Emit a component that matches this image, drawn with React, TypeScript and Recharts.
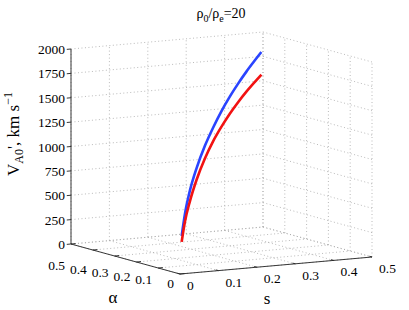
import { ComposedChart, Line, Scatter, XAxis, YAxis } from "recharts";

const sTicks = [0, 0.1, 0.2, 0.3, 0.4, 0.5];
const alphaTicks = [0, 0.1, 0.2, 0.3, 0.4, 0.5];
const vTicks = [0, 250, 500, 750, 1000, 1250, 1500, 1750, 2000];

// both curves run along the diagonal s = alpha
const curveT = [0.01, 0.03, 0.06, 0.1, 0.15, 0.2, 0.25, 0.3, 0.35, 0.4, 0.45, 0.49];
const vBlue = [380, 590, 800, 990, 1170, 1310, 1430, 1530, 1615, 1690, 1755, 1805];
const vRed = [320, 510, 690, 870, 1040, 1170, 1270, 1355, 1425, 1485, 1535, 1572];

const W = 409;
const H = 310;
const FONT = "'Liberation Serif', 'Liberation Sans', Arial, sans-serif";

// fixed 3d view (az/el of the original figure) flattened to 2d
const proj = (s: number, a: number, v: number) => ({
  x: 384 * s - 218 * a,
  y: 34 * s + 60 * a + 0.0975 * v,
});

const seg = (p: number[], q: number[]) => [proj(p[0], p[1], p[2]), proj(q[0], q[1], q[2])];

const sMax = sTicks[sTicks.length - 1];
const aMax = alphaTicks[alphaTicks.length - 1];
const vMax = vTicks[vTicks.length - 1];

const grid: { x: number; y: number }[][] = [];
vTicks.forEach((v) => {
  grid.push(seg([0, aMax, v], [sMax, aMax, v]));
  grid.push(seg([sMax, aMax, v], [sMax, 0, v]));
});
sTicks.forEach((s) => {
  grid.push(seg([s, aMax, 0], [s, aMax, vMax]));
  grid.push(seg([s, 0, 0], [s, aMax, 0]));
});
alphaTicks.forEach((a) => {
  grid.push(seg([sMax, a, 0], [sMax, a, vMax]));
  grid.push(seg([0, a, 0], [sMax, a, 0]));
});

const axes = [
  seg([0, aMax, 0], [0, aMax, vMax]),
  seg([0, aMax, 0], [0, 0, 0]),
  seg([0, 0, 0], [sMax, 0, 0]),
];
const ticks = [
  ...vTicks.map((v) => seg([0, aMax, v], [-0.011, aMax, v])),
  ...sTicks.map((s) => seg([s, 0, 0], [s, 0.012, 0])),
  ...alphaTicks.map((a) => seg([0, a, 0], [0.012, a, 0])),
];

const blueData = curveT.map((t, i) => proj(t, t, vBlue[i]));
const redData = curveT.map((t, i) => proj(t, t, vRed[i]));

const vLabels = vTicks.map((v) => ({ ...proj(0, aMax, v), label: String(v), val: v }));
const sLabels = sTicks.map((s) => ({ ...proj(s, 0, 0), label: String(s), val: s }));
const aLabels = alphaTicks.map((a) => ({ ...proj(0, a, 0), label: String(a), val: a }));

const labelShape = (anchor: string, dx: number, dy: (v: number) => number) => (props: any) => {
  const { cx, cy, payload } = props;
  return (
    <text
      x={cx + dx}
      y={cy + dy(payload.val)}
      textAnchor={anchor}
      style={{ fontFamily: FONT, fontSize: 13.5 }}
      fill="#000"
    >
      {payload.label}
    </text>
  );
};

export default function App() {
  return (
    <div style={{ position: "absolute", left: 0, top: 0, width: W, height: H, background: "#fff" }}>
      <ComposedChart width={W} height={H} margin={{ top: 0, right: 0, bottom: 0, left: 0 }}>
        <XAxis type="number" dataKey="x" domain={[-180, 229]} allowDataOverflow hide />
        <YAxis type="number" dataKey="y" domain={[-36, 274]} allowDataOverflow hide />
        {grid.map((g, i) => (
          <Line
            key={`g${i}`}
            data={g}
            dataKey="y"
            stroke="#a8a8a8"
            strokeWidth={0.8}
            strokeDasharray="1 2.5"
            dot={false}
            activeDot={false}
            isAnimationActive={false}
          />
        ))}
        {[...axes, ...ticks].map((g, i) => (
          <Line
            key={`a${i}`}
            data={g}
            dataKey="y"
            stroke="#222"
            strokeWidth={0.9}
            dot={false}
            activeDot={false}
            isAnimationActive={false}
          />
        ))}
        <Line type="monotone" data={blueData} dataKey="y" stroke="#2a44ff" strokeWidth={2.6} dot={false} activeDot={false} isAnimationActive={false} />
        <Line type="monotone" data={redData} dataKey="y" stroke="#f21212" strokeWidth={2.6} dot={false} activeDot={false} isAnimationActive={false} />
        <Scatter data={vLabels} dataKey="y" shape={labelShape("end", -6, () => 5)} isAnimationActive={false} />
        <Scatter data={sLabels} dataKey="y" shape={labelShape("start", 7, () => 16)} isAnimationActive={false} />
        <Scatter data={aLabels} dataKey="y" shape={labelShape("end", -6, (a) => 14 + 24 * a)} isAnimationActive={false} />
      </ComposedChart>
      <svg
        width={W}
        height={H}
        style={{ position: "absolute", left: 0, top: 0, pointerEvents: "none", fontFamily: FONT }}
      >
        <text x={221} y={18} textAnchor="middle" fontSize={14}>
          ρ<tspan fontSize={10} dy={4}>0</tspan>
          <tspan dy={-4}>/ρ</tspan>
          <tspan fontSize={10} dy={4}>e</tspan>
          <tspan dy={-4}>=20</tspan>
        </text>
        <text x={113} y={303} textAnchor="middle" fontSize={17}>α</text>
        <text x={267} y={304} textAnchor="middle" fontSize={17}>s</text>
        <text transform="translate(19,134) rotate(-90)" textAnchor="middle" fontSize={17}>
          V<tspan fontSize={12} dy={4}>A0</tspan>
          <tspan dy={-4}>', km s</tspan>
          <tspan fontSize={12} dy={-7}>−1</tspan>
        </text>
      </svg>
    </div>
  );
}
